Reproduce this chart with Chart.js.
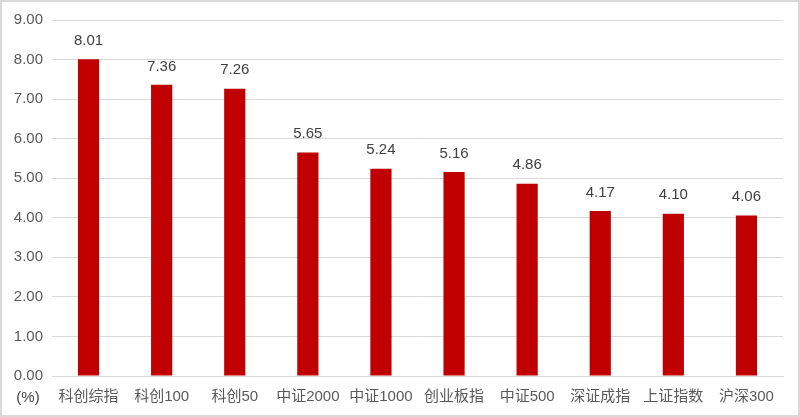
<!DOCTYPE html>
<html>
<head>
<meta charset="utf-8">
<script src="https://cdn.jsdelivr.net/npm/chart.js@4/dist/chart.umd.min.js"></script>
<style>
  html, body { margin: 0; padding: 0; background: #fff; }
  #wrap { position: relative; width: 800px; height: 417px; box-sizing: border-box; border: 2px solid #d9d9d9; }
</style>
</head>
<body>
<div id="wrap"><canvas id="myChart"></canvas></div>
<script>
// 指数涨跌幅 (%)
var categories = ['科创综指', '科创100', '科创50', '中证2000', '中证1000', '创业板指', '中证500', '深证成指', '上证指数', '沪深300'];
var values = [8.01, 7.36, 7.26, 5.65, 5.24, 5.16, 4.86, 4.17, 4.10, 4.06];
var yTicks = [0, 1, 2, 3, 4, 5, 6, 7, 8, 9];

var fontFam = '"Liberation Sans", "Noto Sans CJK SC", Arial, sans-serif';

// value labels above bars + "(%)" unit label
var barLabels = {
  id: 'barLabels',
  afterDatasetsDraw: function (chart) {
    var ctx = chart.ctx;
    var meta = chart.getDatasetMeta(0);
    ctx.save();
    ctx.fillStyle = '#404040';
    ctx.font = '15px ' + fontFam;
    ctx.textAlign = 'center';
    ctx.textBaseline = 'bottom';
    meta.data.forEach(function (bar, i) {
      ctx.fillText(values[i].toFixed(2), bar.x, bar.y - 11);
    });
    ctx.fillStyle = '#404040';
    ctx.textBaseline = 'middle';
    ctx.fillText('(%)', 26, 396);
    ctx.restore();
  }
};

var ctx1 = document.getElementById('myChart').getContext('2d');
var myChart = new Chart(ctx1, {
  type: 'bar',
  data: {
    labels: categories,
    datasets: [{
      data: values,
      backgroundColor: '#c00000',
      barPercentage: 0.29,
      categoryPercentage: 1
    }]
  },
  options: {
    responsive: true,
    maintainAspectRatio: false,
    animation: false,
    layout: { padding: { top: 15, right: 15, bottom: 0, left: 0 } },
    plugins: {
      legend: { display: false },
      tooltip: { enabled: false }
    },
    scales: {
      x: {
        grid: { display: false },
        border: { color: '#d9d9d9', width: 1 },
        ticks: { color: '#595959', font: { size: 15, family: fontFam }, maxRotation: 0, autoSkip: false, padding: 4 },
        afterFit: function (s) { s.height = 39; }
      },
      y: {
        min: 0,
        max: 9,
        afterBuildTicks: function (s) { s.ticks = yTicks.map(function (v) { return { value: v }; }); },
        grid: { color: '#d9d9d9', drawTicks: false },
        border: { display: false },
        ticks: {
          color: '#595959',
          font: { size: 15, family: fontFam },
          padding: 9,
          callback: function (v) { return Number(v).toFixed(2); }
        },
        afterFit: function (s) { s.width = 50; }
      }
    }
  },
  plugins: [barLabels]
});
</script>
</body>
</html>
